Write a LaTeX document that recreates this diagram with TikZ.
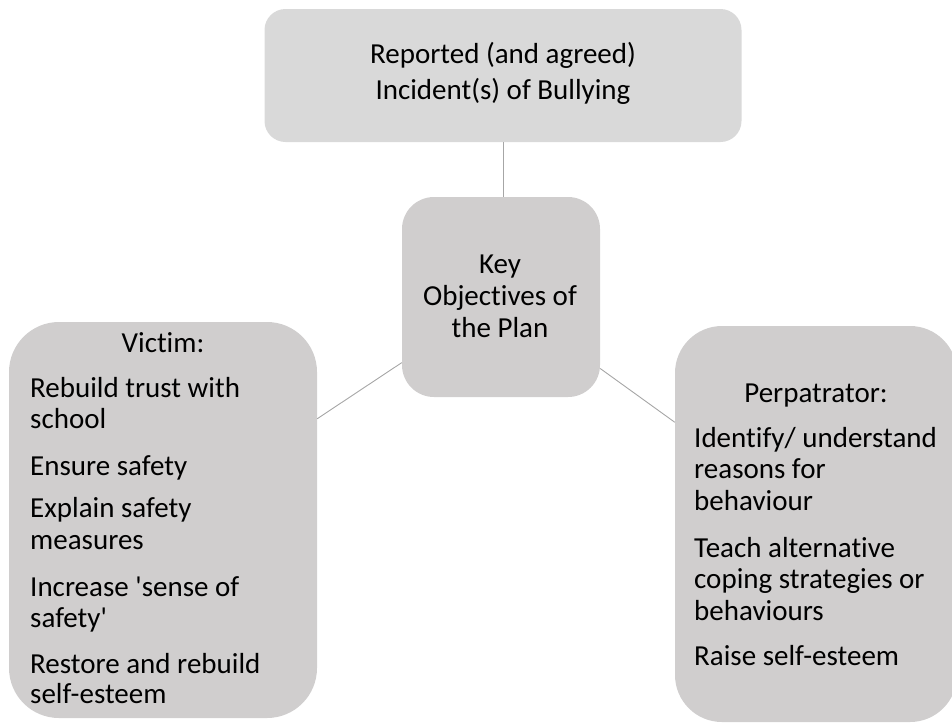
\documentclass[tikz,border=0pt]{standalone}
\usepackage{fontspec}
\setmainfont[Ligatures={NoCommon,TeXOff}]{Carlito}
\definecolor{boxgray}{HTML}{D0CECE}
\definecolor{topgray}{HTML}{D9D9D9}
\definecolor{linegray}{HTML}{A6A6A6}
\begin{document}
\begin{tikzpicture}[x=1pt,y=-1pt,
  box/.style={draw=none, fill=boxgray, inner sep=0pt},
  conn/.style={draw=linegray, line width=0.9pt},
  txt/.style={inner sep=0pt, font=\fontsize{29}{31}\selectfont, text=black}]
\useasboundingbox (0,0) rectangle (952,724);
% boxes
\node[box, fill=topgray, minimum width=477pt, minimum height=133pt, rounded corners=21pt] (top) at (503,75.5) {};
\node[box, minimum width=198pt, minimum height=200pt, rounded corners=32pt] (obj) at (501,297) {};
\node[box, minimum width=308pt, minimum height=396pt, rounded corners=50pt] (left) at (163,520) {};
\node[box, minimum width=282pt, minimum height=396pt, rounded corners=47pt] (right) at (816,524) {};
% connectors
\draw[conn] (top.south) -- (top.south |- obj.north);
\draw[conn] (obj) -- (left);
\draw[conn] (obj) -- (right);
% top text
\node[txt, anchor=base] (t1) at (503,63) {Reported (and agreed)};
\node[txt, anchor=base] (t2) at (503,99) {Incident(s) of Bullying};
% centre text
\node[txt, anchor=base] (k1) at (500,273) {Key};
\node[txt, anchor=base] (k2) at (500,305) {Objectives of};
\node[txt, anchor=base] (k3) at (500,337) {the Plan};
% victim
\node[txt, anchor=base] (v0) at (163,352) {Victim:};
\node[txt, anchor=base west] (v1) at (30,397) {Rebuild trust with};
\node[txt, anchor=base west] (v2) at (30,428) {school};
\node[txt, anchor=base west] (v3) at (30,475) {Ensure safety};
\node[txt, anchor=base west] (v4) at (30,517) {Explain safety};
\node[txt, anchor=base west] (v5) at (30,549) {measures};
\node[txt, anchor=base west] (v6) at (30,596) {Increase 'sense of};
\node[txt, anchor=base west] (v7) at (30,627) {safety'};
\node[txt, anchor=base west] (v8) at (30,673) {Restore and rebuild};
\node[txt, anchor=base west] (v9) at (30,703) {self-esteem};
% perpetrator
\node[txt, anchor=base] (p0) at (816,402) {Perpatrator:};
\node[txt, anchor=base west] (p1) at (694,447) {Identify/ understand};
\node[txt, anchor=base west] (p2) at (694,478) {reasons for};
\node[txt, anchor=base west] (p3) at (694,510) {behaviour};
\node[txt, anchor=base west] (p4) at (694,557) {Teach alternative};
\node[txt, anchor=base west] (p5) at (694,588) {coping strategies or};
\node[txt, anchor=base west] (p6) at (694,620) {behaviours};
\node[txt, anchor=base west] (p7) at (694,665) {Raise self-esteem};
\end{tikzpicture}
\end{document}
